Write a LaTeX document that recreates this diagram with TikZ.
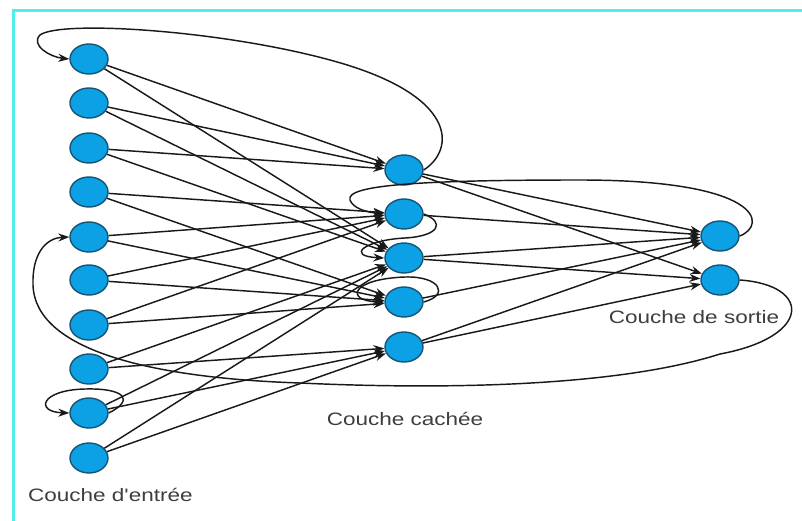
\documentclass[tikz,border=0pt]{standalone}
\usepackage{fontspec}
\usepackage{graphicx}
\newfontfamily\labelfont{Liberation Sans}
\usetikzlibrary{arrows.meta,shapes.geometric}
\definecolor{neuronfill}{RGB}{12,160,228}
\definecolor{neuronline}{RGB}{22,84,118}
\definecolor{framecyan}{RGB}{80,238,236}
\definecolor{labelgray}{RGB}{62,62,62}

\begin{document}
\begin{tikzpicture}[x=1pt,y=-1pt,
  neuron/.style={ellipse,draw=neuronline,fill=neuronfill,line width=1.4pt,
                 minimum width=38pt,minimum height=30pt,inner sep=0pt},
  link/.style={draw=black!90,line width=1.45pt,-{Stealth[length=11pt,width=8pt]}},
  layerlabel/.style={font=\labelfont\fontsize{18}{20}\selectfont,text=labelgray,inner sep=0pt}]

\useasboundingbox (0,0) rectangle (802,521);
\fill[white] (0,0) rectangle (802,521);
\draw[framecyan,line width=3pt] (13,521) -- (13,11) -- (802,11);

% input layer
\foreach \i/\y in {1/59,2/103,3/148,4/192,5/237,6/280,7/325,8/369,9/413,10/458}
  \node[neuron] (I\i) at (89,\y) {};
% hidden layer
\foreach \i/\y in {1/170,2/214,3/258,4/302,5/347}
  \node[neuron] (H\i) at (404,\y) {};
% output layer
\node[neuron] (O1) at (720,236) {};
\node[neuron] (O2) at (720,280) {};

% input -> hidden
\foreach \a/\b in {1/1,1/3,2/1,2/3,3/1,3/3,4/2,4/4,5/2,5/4,6/2,6/4,7/2,7/4,8/3,8/5,9/3,9/5,10/3,10/5}
  \draw[link] (I\a) -- (H\b);

% hidden -> output
\foreach \a/\b in {1/1,1/2,2/1,3/1,3/2,4/1,5/1,5/2}
  \draw[link] (H\a) -- (O\b);

% recurrent connections
\draw[link] (H1.east) .. controls (455,150) and (460,95) .. (330,60)
  .. controls (220,30) and (60,20) .. (40,35)
  .. controls (30,45) and (50,57) .. (I1.west);

\draw[link] (O1.east) .. controls (768,225) and (762,180) .. (580,180)
  .. controls (420,180) and (345,185) .. (350,200)
  .. controls (353,208) and (365,212) .. (H2.west);

\draw[link] (H2.east) .. controls (445,222) and (440,236) .. (405,238)
  .. controls (365,240) and (345,256) .. (H3.west);

\draw[link] (H4.east) .. controls (450,295) and (440,276) .. (405,277)
  .. controls (350,279) and (345,301) .. (H4.west);

\draw[link] (I9.east) .. controls (135,400) and (125,388) .. (85,389)
  .. controls (40,390) and (35,412) .. (I9.west);

\draw[link] (O2.east) .. controls (812,285) and (812,337) .. (720,354)
  .. controls (620,386) and (450,390) .. (300,383)
  .. controls (150,378) and (35,350) .. (33,285)
  .. controls (32,255) and (45,238) .. (I5.west);

% layer captions
\node[layerlabel,anchor=west] (capin) at (28,495) {\scalebox{1.25}[1]{Couche d'entrée}};
\node[layerlabel] (caphid) at (405,419) {\scalebox{1.25}[1]{Couche cachée}};
\node[layerlabel] (capout) at (694,317) {\scalebox{1.25}[1]{Couche de sortie}};
\end{tikzpicture}
\end{document}
